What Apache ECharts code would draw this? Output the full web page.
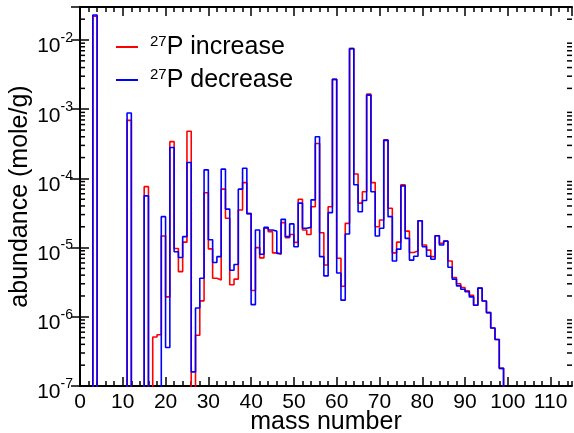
<!DOCTYPE html>
<html>
<head>
<meta charset="utf-8">
<script src="https://cdn.jsdelivr.net/npm/echarts@6/dist/echarts.min.js"></script>
<style>html,body{margin:0;padding:0;background:#fff}#c{width:574px;height:433px}</style>
</head>
<body>
<div id="c"></div>
<script>
// mass numbers A (each drawn as a bin from A-1 to A)
const massNumber = [4,5,6,7,8,9,10,11,12,13,14,15,16,17,18,19,20,21,22,23,24,25,26,27,28,29,30,31,32,33,34,35,36,37,38,39,40,41,42,43,44,45,46,47,48,49,50,51,52,53,54,55,56,57,58,59,60,61,62,63,64,65,66,67,68,69,70,71,72,73,74,75,76,77,78,79,80,81,82,83,84,85,86,87,88,89,90,91,92,93,94,95,96,97,98,99];
// abundance (mole/g), 27P rate increase; 0 = below the axis
const increase = [0.022,0,0,0,0,0,0,0,6.9e-4,0,0,0,7.6e-5,0,5.1e-7,5.5e-7,1.47e-5,1.94e-6,3.4e-4,9.7e-6,4.5e-6,1.2e-5,4.8e-4,0,5.4e-7,1.7e-6,6.2e-5,9.6e-6,3.6e-6,3.4e-6,7.0e-5,2.65e-5,2.9e-6,3.5e-6,3.5e-5,8.7e-5,3.1e-5,2.4e-6,1.0e-5,7.1e-6,1.9e-5,1.7e-5,8.4e-6,8.0e-6,2.3e-5,1.39e-5,1.55e-5,1.19e-5,5.0e-5,1.8e-5,1.55e-5,3.9e-5,3.2e-4,1.64e-5,5.6e-6,3.9e-5,2.7e-3,7.0e-6,2.77e-6,2.24e-5,7.5e-3,1.16e-4,4.4e-5,6.4e-5,1.65e-3,8.7e-5,2.0e-5,2.5e-5,3.6e-4,3.7e-5,8.4e-6,1.2e-5,8.1e-5,1.73e-5,8.5e-6,8.9e-6,2.44e-5,1.09e-5,9.2e-6,7.4e-6,1.48e-5,1.15e-5,1.24e-5,6.4e-6,3.7e-6,3.0e-6,2.65e-6,2.37e-6,2.05e-6,1.47e-6,2.6e-6,1.69e-6,1.15e-6,6.9e-7,4.7e-7,1.8e-7];
// abundance (mole/g), 27P rate decrease
const decrease = [0.023,0,0,0,0,0,0,0,8.8e-4,0,0,0,5.6e-5,0,0,0,2.8e-5,3.6e-7,2.8e-4,8.7e-6,7.2e-6,1.44e-5,1.7e-4,1.6e-7,1.34e-6,3.6e-6,1.33e-4,1.3e-5,6.1e-6,7.4e-6,1.36e-4,3.6e-5,4.7e-6,5.7e-6,7.0e-5,1.4e-4,3.1e-5,1.5e-6,1.8e-5,8.0e-6,1.96e-5,1.8e-5,1.73e-5,8.2e-6,2.56e-5,1.44e-5,2.2e-5,1.03e-5,4.4e-5,1.9e-5,1.96e-5,4.9e-5,4.0e-4,7.4e-6,3.9e-6,3.2e-5,2.7e-3,4.3e-6,1.74e-6,1.57e-5,7.5e-3,8.1e-5,3.3e-5,4.8e-5,1.6e-3,6.4e-5,1.47e-5,1.9e-5,3.55e-4,2.8e-5,6.4e-6,9.5e-6,7.8e-5,1.36e-5,6.6e-6,7.5e-6,2.44e-5,1.03e-5,7.5e-6,6.8e-6,1.48e-5,1.09e-5,1.24e-5,5.2e-6,3.5e-6,2.8e-6,2.5e-6,2.3e-6,1.94e-6,1.47e-6,2.6e-6,1.69e-6,1.15e-6,6.9e-7,4.7e-7,1.8e-7];
const seriesNames = ['27P increase', '27P decrease'];
const xTicks = [0,10,20,30,40,50,60,70,80,90,100,110];
const yDecades = [-7,-6,-5,-4,-3,-2];

const FLOOR = 1e-10; // stand-in for "below the axis"
function stepPoints(values) {
  const pts = [[massNumber[0] - 1, FLOOR]];
  for (let i = 0; i < massNumber.length; i++) {
    const v = values[i] > 0 ? values[i] : FLOOR;
    pts.push([massNumber[i] - 1, v], [massNumber[i], v]);
  }
  pts.push([massNumber[massNumber.length - 1], FLOOR]);
  return pts;
}
const minorY = [];
yDecades.forEach(function (d) {
  for (let k = 2; k <= 9; k++) {
    const v = k * Math.pow(10, d);
    if (v < 0.03) minorY.push([0, v]);
  }
});

const FONT = 'Liberation Sans';
const chart = echarts.init(document.getElementById('c'), null, {renderer: 'canvas'});
const tickStyle = {color: '#000', width: 1.5};
function xAx(pos, interval, len, showLabel) {
  return {
    type: 'value', gridIndex: 0, position: pos, min: 0, max: 115, interval: interval,
    axisLine: {show: interval === 10, lineStyle: {color: '#000', width: 2}},
    axisTick: {show: true, inside: true, length: len, lineStyle: tickStyle},
    axisLabel: {show: showLabel, fontFamily: FONT, fontSize: 21, color: '#000', margin: 6, showMaxLabel: false},
    splitLine: {show: false},
    name: showLabel ? 'mass number' : '', nameLocation: 'middle', nameGap: 24, nameMoveOverlap: false,
    nameTextStyle: {fontFamily: FONT, fontSize: 25, color: '#000'}
  };
}
function yAx(pos, showLabel) {
  return {
    type: 'log', logBase: 10, position: pos, min: 1e-7, max: 0.03,
    axisLine: {show: true, lineStyle: {color: '#000', width: 2}},
    axisTick: {show: true, inside: true, length: 9, lineStyle: tickStyle},
    axisLabel: {
      show: showLabel, margin: 7, showMaxLabel: false, padding: [8, 0, 0, 0],
      formatter: function (v) { return '{b|10}{s|' + Math.round(Math.log10(v)) + '}'; },
      rich: {
        b: {fontFamily: FONT, fontSize: 21, color: '#000', lineHeight: 26, verticalAlign: 'bottom'},
        s: {fontFamily: FONT, fontSize: 14, color: '#000', lineHeight: 26, verticalAlign: 'top'}
      }
    },
    splitLine: {show: false},
    name: showLabel ? 'abundance (mole/g)' : '', nameLocation: 'middle', nameGap: 47, nameRotate: 90,
    nameMoveOverlap: false,
    nameTextStyle: {fontFamily: FONT, fontSize: 25, color: '#000'}
  };
}

chart.setOption({
  animation: false,
  backgroundColor: '#fff',
  grid: {left: 80, right: 2, top: 7, bottom: 47, containLabel: false, outerBoundsMode: 'none'},
  xAxis: [xAx('bottom', 10, 9, true), xAx('top', 10, 9, false), xAx('bottom', 2, 5, false), xAx('top', 2, 5, false)],
  yAxis: [yAx('left', true), yAx('right', false)],
  legend: {
    orient: 'vertical', left: 111, top: 29, itemWidth: 22, itemHeight: 2, itemGap: 7,
    icon: 'rect',
    formatter: function (name) { return '{s|27}{p|' + name.slice(2) + '}'; },
    textStyle: {
      padding: [0, 0, 0, 7],
      rich: {
        s: {fontFamily: FONT, fontSize: 15, color: '#000', lineHeight: 26, verticalAlign: 'top'},
        p: {fontFamily: FONT, fontSize: 25, color: '#000', lineHeight: 26, verticalAlign: 'bottom'}
      }
    },
    data: [
      {name: seriesNames[0], itemStyle: {color: '#ff0000'}},
      {name: seriesNames[1], itemStyle: {color: '#0000ff'}}
    ]
  },
  series: [
    {name: seriesNames[0], type: 'line', xAxisIndex: 0, yAxisIndex: 0, data: stepPoints(increase),
     showSymbol: false, symbol: 'none', clip: true, color: '#ff0000', lineStyle: {color: '#ff0000', width: 1.6}},
    {name: seriesNames[1], type: 'line', xAxisIndex: 0, yAxisIndex: 0, data: stepPoints(decrease),
     showSymbol: false, symbol: 'none', clip: true, color: '#0000ff', lineStyle: {color: '#0000ff', width: 1.6}},
    {type: 'custom', xAxisIndex: 0, yAxisIndex: 0, data: minorY, silent: true, clip: false,
     encode: {x: 0, y: 1},
     renderItem: function (params, api) {
       const y = api.coord([0, api.value(1)])[1];
       const cs = params.coordSys;
       return {type: 'group', children: [
         {type: 'line', shape: {x1: cs.x, y1: y, x2: cs.x + 5, y2: y}, style: {stroke: '#000', lineWidth: 1.5}},
         {type: 'line', shape: {x1: cs.x + cs.width, y1: y, x2: cs.x + cs.width - 5, y2: y}, style: {stroke: '#000', lineWidth: 1.5}}
       ]};
     }}
  ]
});
</script>
</body>
</html>
